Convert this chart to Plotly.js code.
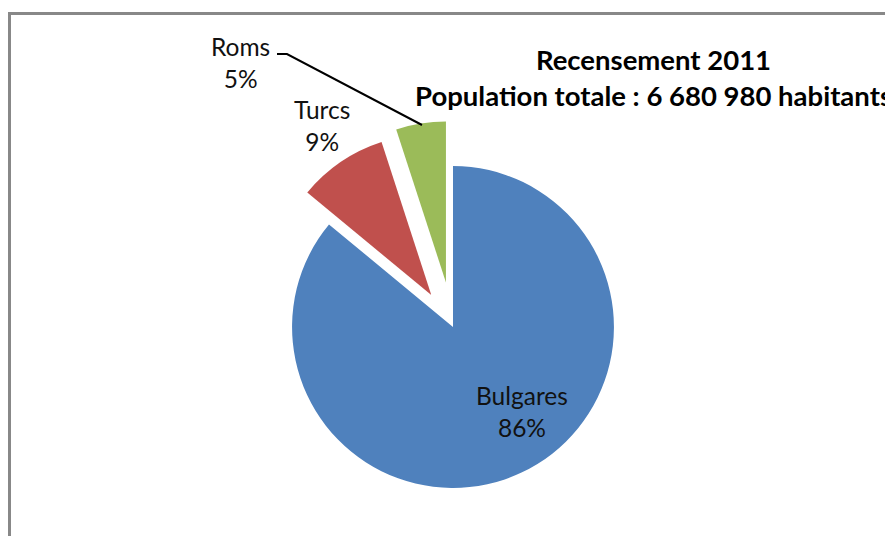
<!DOCTYPE html>
<html>
<head>
<meta charset="utf-8">
<script src="https://cdn.plot.ly/plotly-3.0.1.min.js"></script>
<style>html,body{margin:0;padding:0;background:#fff;}#chart{width:885px;height:536px;}</style>
</head>
<body>
<div id="chart"></div>
<script>
// Data
const labels = ['Bulgares', 'Turcs', 'Roms'];
const values = [86, 9, 5];
const titleLines = ['Recensement 2011', 'Population totale : 6 680 980 habitants'];

// Styles
const colors = ['#4F81BD', '#C0504D', '#9BBB59'];
const pulls = [0, 0.24, 0.28];
const W = 885, H = 536;
const px = x => x / W;
const py = y => 1 - y / H;
const FONT = 'Lato, "Open Sans", sans-serif';

// label positions in pixels (layout only)
const labelPos = [[522, 411], [322, 125], [240, 63]];

const annotations = labels.map((l, i) => ({
  xref: 'paper', yref: 'paper', x: px(labelPos[i][0]), y: py(labelPos[i][1]),
  xanchor: 'center', yanchor: 'middle', showarrow: false,
  text: l + '<br>' + values[i] + '%',
  font: {family: FONT, size: 24.5, color: '#111'}
}));
annotations.push({
  xref: 'paper', yref: 'paper', x: px(653), y: py(77),
  xanchor: 'center', yanchor: 'middle', showarrow: false,
  text: '<b>' + titleLines.join('</b><br><b>') + '</b>',
  font: {family: FONT, size: 27.5, color: '#000'}
});

const trace = {
  type: 'pie',
  labels: labels,
  values: values,
  sort: false,
  direction: 'clockwise',
  rotation: 0,
  pull: pulls,
  marker: {colors: colors, line: {width: 0}},
  textinfo: 'none',
  hoverinfo: 'skip',
  showlegend: false,
  domain: {x: [px(453 - 206), px(453 + 206)], y: [1 - (327 + 206) / H, 1 - (327 - 206) / H]}
};

const layout = {
  width: W, height: H,
  margin: {l: 0, r: 0, t: 0, b: 0},
  paper_bgcolor: '#fff',
  showlegend: false,
  annotations: annotations,
  shapes: [
    {type: 'line', xref: 'paper', yref: 'paper', x0: px(9.5), x1: px(9.5), y0: py(12), y1: py(540), line: {color: '#888', width: 3}},
    {type: 'line', xref: 'paper', yref: 'paper', x0: px(8), x1: px(890), y0: py(13.5), y1: py(13.5), line: {color: '#888', width: 3}},
    {type: 'path', xref: 'paper', yref: 'paper',
     path: 'M ' + px(277) + ' ' + py(54) + ' L ' + px(287) + ' ' + py(54) + ' L ' + px(422) + ' ' + py(125),
     line: {color: '#000', width: 2}}
  ]
};

Plotly.newPlot('chart', [trace], layout, {staticPlot: true, displayModeBar: false});
</script>
</body>
</html>
